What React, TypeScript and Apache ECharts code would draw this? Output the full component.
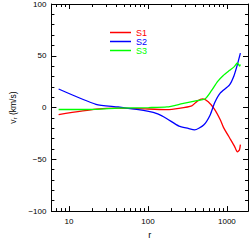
import React, { useEffect, useRef } from "react";
import * as echarts from "echarts";

const R1 = [7.4, 22, 42, 102, 174, 247, 359, 422, 495, 580, 695, 830, 908, 1084, 1240, 1358, 1443, 1482];
const S1 = [-6.8, -1.6, -0.6, -1.4, -2.1, -0.9, 1.6, 6.2, 8.3, 5.6, -1.6, -12.3, -19.4, -29.4, -37, -42.9, -40.7, -35.8];

const R2 = [7.4, 22, 42, 102, 133, 174, 247, 324, 389, 508, 612, 700, 822, 1074, 1230, 1360, 1482];
const S2 = [17.9, 3.1, 0.6, -3.7, -6.2, -10.8, -17.9, -20.1, -21.6, -16.9, -7.4, 4.6, 13.9, 21.6, 30.8, 41.7, 52.5];

const R3 = [7.4, 22, 42, 102, 174, 272, 389, 532, 634, 760, 900, 1084, 1240, 1358, 1450, 1482];
const S3 = [-1.9, -1.7, -0.6, 0, 0.6, 3.7, 6.2, 8.5, 16, 25, 31, 36, 39.5, 43, 40, 41.5];

const SERIES_NAMES = ["S1", "S2", "S3"];
const COLORS = ["#ff0000", "#0000ff", "#00ff00"];

const X_MIN = 6;
const X_MAX = 1850;
const X_MAJOR = [10, 100, 1000];
const X_MINOR = [6, 7, 8, 9, 20, 30, 40, 50, 60, 70, 80, 90, 200, 300, 400, 500, 600, 700, 800, 900];
const Y_MIN = -100;
const Y_MAX = 100;
const Y_STEP = 50;

const FONT = "'Liberation Sans', Arial, Helvetica, sans-serif";

export default function App() {
  const ref = useRef<HTMLDivElement>(null);
  useEffect(() => {
    if (!ref.current) return;
    const chart = echarts.init(ref.current, null, { renderer: "svg" });
    const lg = (v: number) => Math.log10(v);
    const toData = (R: number[], S: number[]) => R.map((r, i) => [lg(r), S[i]]);
    const baseX = {
      type: "value" as const,
      min: lg(X_MIN),
      max: lg(X_MAX),
      splitLine: { show: false },
      axisLine: { show: true, onZero: false, lineStyle: { color: "#000", width: 1 } },
    };
    const majorX = (pos: string, labels: boolean) => ({
      ...baseX,
      position: pos,
      axisTick: { show: true, inside: true, length: 5, customValues: X_MAJOR.map(lg), lineStyle: { color: "#000" } },
      axisLabel: labels
        ? {
            show: true,
            customValues: X_MAJOR.map(lg),
            formatter: (v: number) => String(Math.round(Math.pow(10, v))),
            fontSize: 8,
            color: "#000",
            fontFamily: FONT,
            margin: 6,
          }
        : { show: false },
    });
    const minorX = (pos: string) => ({
      ...baseX,
      position: pos,
      axisTick: { show: true, inside: true, length: 3, customValues: X_MINOR.map(lg), lineStyle: { color: "#000" } },
      axisLabel: { show: false },
    });
    const yAx = (pos: string, labels: boolean) => ({
      type: "value" as const,
      position: pos,
      min: Y_MIN,
      max: Y_MAX,
      interval: Y_STEP,
      splitLine: { show: false },
      axisLine: { show: true, onZero: false, lineStyle: { color: "#000", width: 1 } },
      axisTick: { show: true, inside: true, length: 5, lineStyle: { color: "#000" } },
      minorTick: { show: true, splitNumber: 5, length: 3, lineStyle: { color: "#000" } },
      axisLabel: labels
        ? {
            show: true,
            fontSize: 8,
            color: "#000",
            fontFamily: FONT,
            margin: 5,
            formatter: (v: number) => (v < 0 ? "\u2212" + Math.abs(v) : String(v)),
          }
        : { show: false },
    });
    const xAxes: any[] = [majorX("bottom", true), minorX("bottom"), majorX("top", false), minorX("top")];
    xAxes[0].name = "r";
    xAxes[0].nameLocation = "middle";
    xAxes[0].nameGap = 17;
    xAxes[0].nameTextStyle = { fontSize: 9, color: "#000", fontFamily: FONT };
    const yAxes: any[] = [yAx("left", true), yAx("right", false)];
    yAxes[0].name = "{v|v}{s|r}{v| (km/s)}";
    yAxes[0].nameLocation = "middle";
    yAxes[0].nameGap = 23;
    yAxes[0].nameRotate = 90;
    yAxes[0].nameTextStyle = {
      color: "#000",
      fontFamily: FONT,
      rich: {
        v: { fontSize: 8.5, lineHeight: 10, color: "#000", fontFamily: FONT },
        s: { fontSize: 6, lineHeight: 10, verticalAlign: "bottom", color: "#000", fontFamily: FONT },
      },
    };
    const datasets = [toData(R1, S1), toData(R2, S2), toData(R3, S3)];
    chart.setOption({
      animation: false,
      grid: { left: 33, right: 2, top: 2, bottom: 26, containLabel: false },
      xAxis: xAxes,
      yAxis: yAxes,
      legend: {
        orient: "vertical",
        left: 105,
        top: 23,
        icon: "rect",
        itemWidth: 21,
        itemHeight: 1.5,
        itemGap: 0,
        textStyle: { fontSize: 9, lineHeight: 8.5, fontFamily: FONT },
        data: SERIES_NAMES.map((n, i) => ({ name: n, textStyle: { color: COLORS[i] } })),
      },
      series: datasets.map((d, i) => ({
        name: SERIES_NAMES[i],
        type: "line",
        data: d,
        xAxisIndex: 0,
        yAxisIndex: 0,
        showSymbol: false,
        symbol: "none",
        smooth: 0.2,
        color: COLORS[i],
        lineStyle: { color: COLORS[i], width: 1.3 },
      })),
    });
    return () => chart.dispose();
  }, []);
  return <div ref={ref} style={{ width: 250, height: 244, position: "absolute", left: 0, top: 0 }} />;
}
